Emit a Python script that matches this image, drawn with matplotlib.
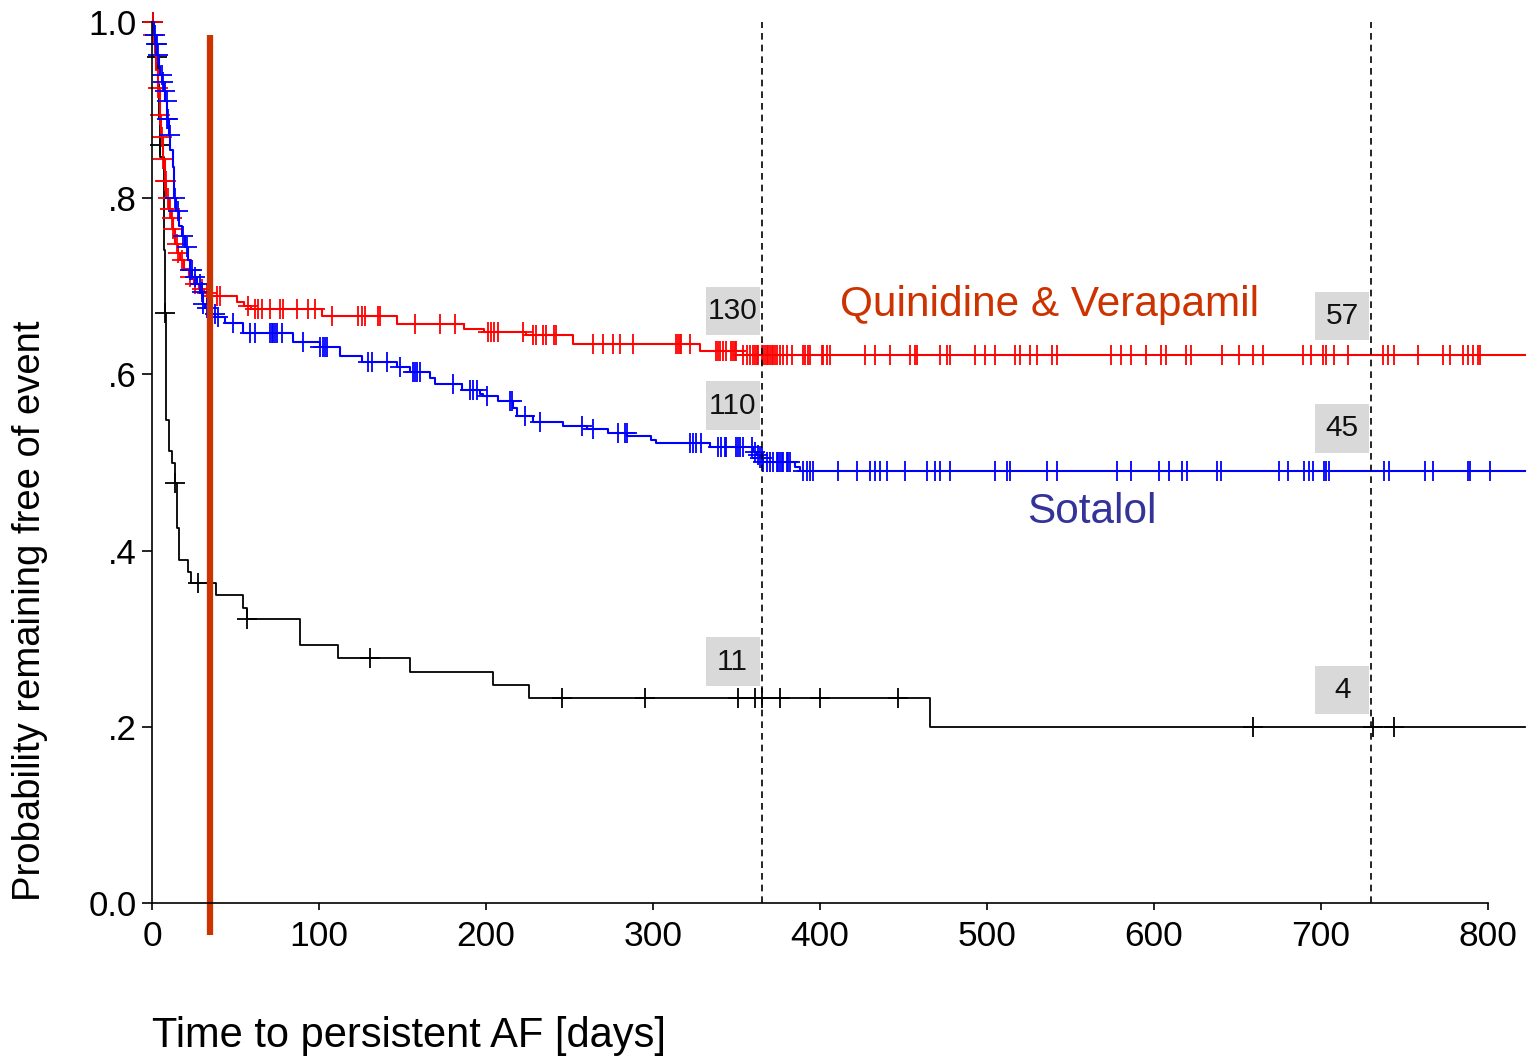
import numpy as np
import matplotlib
matplotlib.use("Agg")
import matplotlib.pyplot as plt
from matplotlib.patches import Rectangle

plt.rcParams['font.family'] = ['Liberation Sans', 'DejaVu Sans']

t_end = 822

# Quinidine & Verapamil (red) - step times (days) and survival
qv_t = [0, 0.5, 1.5, 2.5, 3.5, 4.5, 5.5, 6.5, 7.5, 8.5, 10, 11.5, 12.5, 14, 15.5, 17,
        19, 22, 25, 28, 31, 34, 51, 55, 59, 101.6, 146.5, 187, 199, 224, 252, 328, 354]
qv_s = [1.0, 0.985, 0.965, 0.945, 0.925, 0.895, 0.87, 0.845, 0.82, 0.80, 0.788, 0.778,
        0.765, 0.748, 0.738, 0.73, 0.72, 0.71, 0.703, 0.697, 0.692, 0.689, 0.6827, 0.6776,
        0.674, 0.6665, 0.657, 0.651, 0.6485, 0.645, 0.635, 0.626, 0.622]
qv_cens = [0.3, 0.8, 3.8, 4.8, 5.8, 6.8, 7.8, 8.2, 9.8, 10.8, 11.8, 12.8, 14.8, 15.8, 17.8,
           22.8, 25.7, 29.8, 32.8, 35.7, 38.7, 40.7, 57.7, 61.7, 63.7, 65.7, 70.7, 76.6,
           78.6, 86.6, 93.6, 97.6, 107.6, 123.6, 125.6, 127.5, 135.5, 136.5, 157.5, 172.5,
           181.4, 201, 203, 205, 207, 222, 228, 230, 234, 236, 241, 242, 264, 270, 276,
           280, 288, 314, 315, 316, 317, 322, 338, 339, 340, 342, 344, 347, 348, 349, 350,
           354, 356, 358, 360, 361, 362, 363, 365, 366, 367, 368, 369, 370, 371, 372, 373,
           374, 376, 378, 380, 383, 390, 391, 393, 394, 401, 402, 404, 406, 427, 433, 442,
           454, 457, 458, 472, 476, 478, 493, 499, 505, 517, 520, 526, 530, 539, 542, 574,
           580, 586, 595, 604, 607, 619, 622, 641, 651, 659, 665, 689, 694, 701, 703, 708,
           716, 737, 740, 744, 758, 773, 777, 785, 788, 791, 794, 795]

# Sotalol (blue)
so_t = [0, 1, 2, 3, 4, 5, 6, 7, 8, 9, 10, 11, 12.5, 13.3, 14.5, 16, 18, 20, 21.5, 22.5,
        24, 27, 29, 30.5, 32, 35, 38, 43.7, 54.5, 84.6, 100.6, 112.6, 125.6, 146.5, 154.5,
        166.5, 169.5, 185.4, 196.4, 198, 207, 216, 218.6, 228, 246, 260.5, 273, 284.4,
        299, 302, 334, 360, 362, 364, 366, 385, 388]
so_s = [1.0, 0.985, 0.975, 0.963, 0.95, 0.94, 0.932, 0.922, 0.91, 0.89, 0.872, 0.855,
        0.835, 0.80, 0.785, 0.768, 0.757, 0.745, 0.73, 0.718, 0.71, 0.703, 0.693, 0.68,
        0.675, 0.669, 0.6655, 0.658, 0.6466, 0.637, 0.6314, 0.621, 0.6143, 0.6086, 0.603,
        0.5955, 0.589, 0.582, 0.578, 0.575, 0.57, 0.5615, 0.553, 0.546, 0.541, 0.538,
        0.534, 0.530, 0.5255, 0.5225, 0.518, 0.512, 0.5085, 0.5047, 0.501, 0.4952, 0.49]
so_cens = [1.8, 2.2, 2.8, 3.8, 5.8, 6.3, 7.8, 8.8, 9.2, 9.8, 10.8, 13.8, 15.8, 18.7, 20.8,
           22.8, 23.8, 26, 28.7, 29.8, 30.7, 32.8, 37.7, 39.7, 48.7, 58.7, 61.7, 70.7,
           71.7, 72.7, 73.7, 74.8, 77.7, 90.6, 100.6, 102.6, 103.6, 104.6, 129.5, 131.6,
           140.5, 148.5, 156.5, 157.5, 158.5, 160.5, 180.4, 190.4, 192.4, 194.4, 200.4,
           214.4, 215.4, 223.4, 232.3, 257.3, 264.3, 279.2, 283.2, 284.2, 322, 324, 326,
           329, 339, 341, 343, 344, 350, 351, 352, 354, 359, 361, 363, 364, 365, 366, 368,
           370, 372, 374, 375, 376, 377, 378, 380, 381, 382, 390, 392, 394, 396, 411, 422,
           430, 433, 436, 440, 451, 464, 469, 472, 478, 505, 512, 514, 536, 542, 578, 586,
           603, 609, 617, 620, 638, 640, 675, 680, 690, 693, 695, 702, 703, 705, 738, 741,
           762, 767, 788, 789, 801]

# third group (black)
bl_t = [0, 1, 2, 3, 3.5, 4, 4.5, 5, 7.2, 7.9, 8.4, 10.2, 11.8, 13.6, 14.8, 16.3, 21.6,
        23.4, 38.3, 54.3, 56.7, 88.6, 111.4, 154.5, 204, 226, 466]
bl_s = [1.0, 0.985, 0.975, 0.96, 0.93, 0.89, 0.86, 0.847, 0.741, 0.67, 0.548, 0.513,
        0.50, 0.477, 0.426, 0.389, 0.376, 0.363, 0.35, 0.335, 0.322, 0.293, 0.278, 0.262,
        0.247, 0.233, 0.20]
bl_cens = [0.3, 3.2, 4.7, 8.0, 13.7, 27.5, 57, 130.5, 245.5, 295, 351, 361, 365, 376,
           400, 447, 659, 731, 744]

landmarks = [365, 730]
cut_day = 35
at_risk_qv = [130, 57]
at_risk_so = [110, 45]
at_risk_bl = [11, 4]


def curve_at(times, surv, pts):
    idx = np.searchsorted(times, pts, side='right') - 1
    return np.asarray(surv)[idx]


fig = plt.figure(figsize=(15.3, 10.59), dpi=100)
ax = fig.add_axes([0.09935, 0.11237, 0.89719, 0.87101])
ax.set_xlim(0, t_end)
ax.set_ylim(-0.042, 1.005)

groups = [(bl_t, bl_s, bl_cens, 'black', 1.3),
          (qv_t, qv_s, qv_cens, '#FF0000', 1.5),
          (so_t, so_s, so_cens, '#0000FF', 1.5)]
for t, s, c, col, lw in groups:
    tt = list(t) + [t_end]
    ss = list(s) + [s[-1]]
    ax.step(tt, ss, where='post', color=col, lw=lw, clip_on=False)
    ax.plot(c, curve_at(t, s, c), '+', color=col, ms=14, mew=1.3, clip_on=False)

for d in landmarks:
    ax.vlines(d, 0, 1.0, colors='black', linestyles=(0, (4, 3)), lw=1.2)

ax.vlines(cut_day, -0.036, 0.985, colors='#CC3300', lw=4.5, clip_on=False)

# at-risk boxes
box_w, box_h = 32.5, 0.055
box_y = [[0.672, 0.6663], [0.5647, 0.5386], [0.274, 0.2418]]
for counts, ys in zip([at_risk_qv, at_risk_so, at_risk_bl], box_y):
    for d, n, yc in zip(landmarks, counts, ys):
        ax.add_patch(Rectangle((d - 1 - box_w, yc - box_h / 2), box_w, box_h,
                               fc='#D9D9D9', ec='none', zorder=1))
        ax.text(d - 1 - box_w / 2, yc, str(n), ha='center', va='center',
                fontsize=21.5, color='#111111', zorder=2)

ax.text(412, 0.679, 'Quinidine & Verapamil', color='#CC3300', fontsize=30.5,
        ha='left', va='center')
ax.text(524, 0.444, 'Sotalol', color='#333399', fontsize=30.5, ha='left', va='center')

for sp in ['top', 'right']:
    ax.spines[sp].set_visible(False)
ax.spines['left'].set_bounds(0, 1)
ax.spines['bottom'].set_position(('data', 0))
ax.spines['bottom'].set_bounds(0, 800)
for sp in ['left', 'bottom']:
    ax.spines[sp].set_linewidth(1.2)

ax.set_xticks(range(0, 801, 100))
ax.set_yticks([0, 0.2, 0.4, 0.6, 0.8, 1.0])
ax.set_yticklabels(['0.0', '.2', '.4', '.6', '.8', '1.0'])
ax.tick_params(axis='y', direction='out', length=7, width=1.2, labelsize=25, pad=4)
ax.tick_params(axis='x', direction='out', length=5, width=1.2, labelsize=25.5, pad=7)

fig.text(0.0196, 0.4235, 'Probability remaining free of event', rotation=90,
         ha='center', va='center', fontsize=27.5)
fig.text(152 / 1530, 1 - 1036 / 1059, 'Time to persistent AF [days]', ha='left',
         va='center', fontsize=30)

fig.savefig('out.png', dpi=100)
